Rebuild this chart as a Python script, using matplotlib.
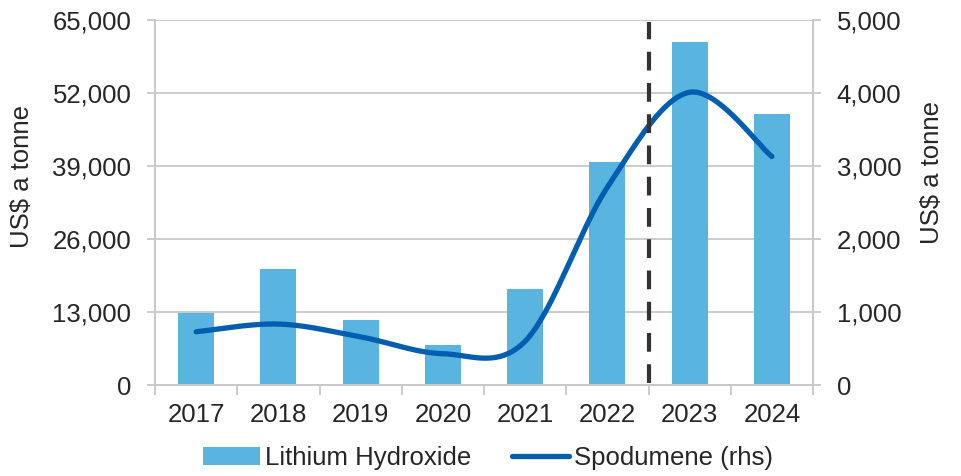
import numpy as np
import matplotlib
matplotlib.use("Agg")
import matplotlib.pyplot as plt
from matplotlib.ticker import FuncFormatter, FixedLocator
from matplotlib.lines import Line2D
from matplotlib.patches import Patch

plt.rcParams['font.family'] = ['Liberation Sans', 'DejaVu Sans']

years = ["2017", "2018", "2019", "2020", "2021", "2022", "2023", "2024"]
hydroxide = [12800, 20700, 11600, 7100, 17100, 39700, 61100, 48300]
spodumene = [730, 836, 660, 430, 600, 2710, 4010, 3130]

bar_color = "#5ab4e0"
line_color = "#005eb0"
grid_color = "#c8c8c8"
text_color = "#262626"
fs = 18.5


def smooth(xs, ys, n=40):
    # bezier smoothing like a spreadsheet "smoothed line"
    xs = np.asarray(xs, float)
    ys = np.asarray(ys, float)
    px = np.concatenate([[xs[0]], xs, [xs[-1]]])
    py = np.concatenate([[ys[0]], ys, [ys[-1]]])
    outx, outy = [], []
    for i in range(1, len(px) - 2):
        p0 = np.array([px[i - 1], py[i - 1]])
        p1 = np.array([px[i], py[i]])
        p2 = np.array([px[i + 1], py[i + 1]])
        p3 = np.array([px[i + 2], py[i + 2]])
        c1 = p1 + (p2 - p0) / 6.0
        c2 = p2 - (p3 - p1) / 6.0
        t = np.linspace(0, 1, n)[:, None]
        pts = ((1 - t) ** 3) * p1 + 3 * ((1 - t) ** 2) * t * c1 + 3 * (1 - t) * t ** 2 * c2 + t ** 3 * p2
        outx.extend(pts[:, 0])
        outy.extend(pts[:, 1])
    return np.array(outx), np.array(outy)


fig = plt.figure(figsize=(9.61, 4.76), dpi=100)
ax = fig.add_axes([0.1613, 0.191, 0.6847, 0.767])
ax2 = ax.twinx()

x = np.arange(len(years))
ax.bar(x, hydroxide, width=0.44, color=bar_color, zorder=2)
ax.set_xlim(-0.5, len(years) - 0.5)
ax.set_ylim(0, 65000)
ax.set_yticks(np.arange(0, 65001, 13000))
ax.yaxis.set_major_formatter(FuncFormatter(lambda v, p: "{:,.0f}".format(v)))
ax.grid(axis="y", color=grid_color, linewidth=1.3, zorder=0)
ax.set_axisbelow(True)

ax.set_xticks(x)
ax.set_xticklabels(years)
ax.xaxis.set_minor_locator(FixedLocator(np.arange(-0.5, len(years), 1.0)))
ax.tick_params(axis="x", which="major", length=0, pad=13, labelsize=fs, labelcolor=text_color)
ax.tick_params(axis="x", which="minor", length=7, width=1.3, color=grid_color)
ax.tick_params(axis="y", length=6, width=1.3, color=grid_color, labelsize=fs,
               labelcolor=text_color, pad=11)

sx, sy = smooth(x, spodumene)
ax2.plot(sx, sy, color=line_color, linewidth=3.8, solid_capstyle="round", zorder=3)
ax2.set_ylim(0, 5000)
ax2.set_yticks(np.arange(0, 5001, 1000))
ax2.yaxis.set_major_formatter(FuncFormatter(lambda v, p: "{:,.0f}".format(v)))
ax2.tick_params(axis="y", length=6, width=1.3, color=grid_color, labelsize=fs,
                labelcolor=text_color, pad=11)
ax2.axvline(5.5, ymin=0.005, ymax=0.995, color="#333333", linewidth=3,
            dashes=(4.5, 3), zorder=4)

for a in (ax, ax2):
    a.spines["top"].set_visible(False)
    for s in ("left", "right", "bottom"):
        a.spines[s].set_color(grid_color)
        a.spines[s].set_linewidth(1.3)

fig.text(22 / 961, 1 - 176 / 476, "US$ a tonne", rotation=90, ha="center", va="center",
         fontsize=fs, color=text_color)
fig.text(932 / 961, 1 - 172 / 476, "US$ a tonne", rotation=90, ha="center", va="center",
         fontsize=fs, color=text_color)

handles = [Patch(facecolor=bar_color, edgecolor="none"),
           Line2D([0], [0], color=line_color, linewidth=3.8, solid_capstyle="round")]
fig.legend(handles, ["Lithium Hydroxide", "Spodumene (rhs)"], loc="center",
           bbox_to_anchor=(0.508, 0.038), ncol=2, frameon=False, fontsize=fs,
           handlelength=2.2, handleheight=0.75, handletextpad=0.2, columnspacing=1.6,
           labelcolor=text_color)

fig.savefig("out.png", dpi=100)
